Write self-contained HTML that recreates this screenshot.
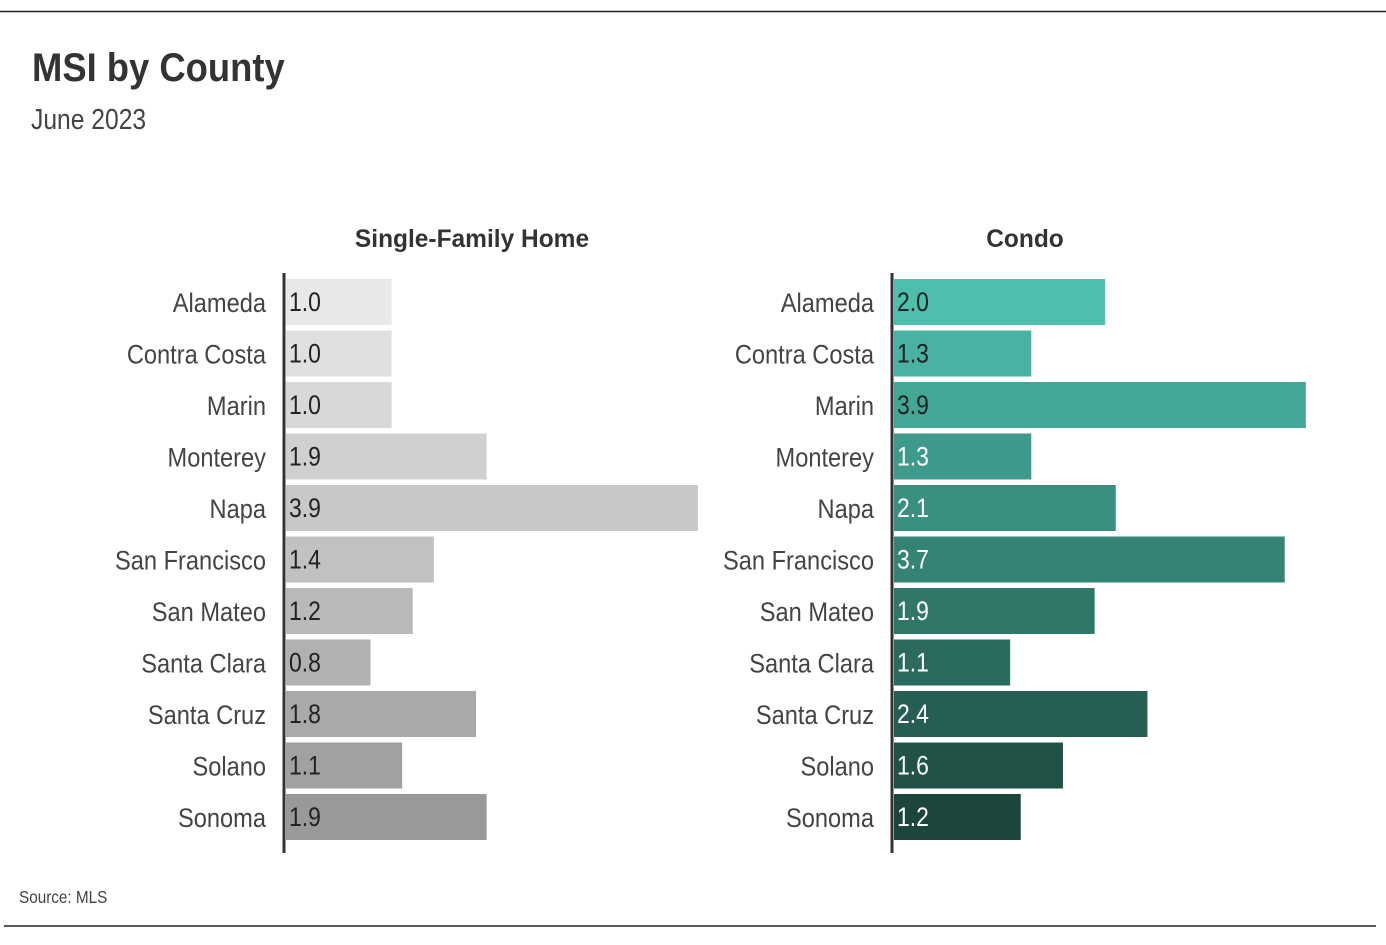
<!DOCTYPE html>
<html><head><meta charset="utf-8"><style>
body{margin:0;background:#fff;}
svg text{font-family:"Liberation Sans",sans-serif;}
</style></head><body>
<svg width="1386" height="940" viewBox="0 0 1386 940">
<line x1="0" y1="11.5" x2="1386" y2="11.5" stroke="#222" stroke-width="1.5"/>
<line x1="4" y1="926" x2="1376" y2="926" stroke="#222" stroke-width="1.5"/>
<text transform="translate(32,81) scale(0.91,1)" font-size="40" font-weight="bold" fill="#333">MSI by County</text>
<text transform="translate(31,129) scale(0.85,1)" font-size="29" fill="#444">June 2023</text>
<text transform="translate(472,247) scale(0.98,1)" font-size="25" font-weight="bold" fill="#333" text-anchor="middle">Single-Family Home</text>
<text transform="translate(1025,247) scale(0.98,1)" font-size="25" font-weight="bold" fill="#333" text-anchor="middle">Condo</text>
<text transform="translate(19,903) scale(0.85,1)" font-size="18" fill="#444">Source: MLS</text>
<g id="left"></g>
<g id="right"></g>
</svg>
<script>
const counties=["Alameda","Contra Costa","Marin","Monterey","Napa","San Francisco","San Mateo","Santa Clara","Santa Cruz","Solano","Sonoma"];
const sfhValues=[1.0,1.0,1.0,1.9,3.9,1.4,1.2,0.8,1.8,1.1,1.9];
const condoValues=[2.0,1.3,3.9,1.3,2.1,3.7,1.9,1.1,2.4,1.6,1.2];
const NS="http://www.w3.org/2000/svg";
const rowY=i=>279+i*51.5;
const barH=46;
const xLen=v=>v*105.6;
function lerp(a,b,t){return a.map((c,k)=>Math.round(c+(b[k]-c)*t));}
function panel(gid,axisX,vals,c0,c1,whiteFrom,prefix){
  const g=document.getElementById(gid);
  const ax=document.createElementNS(NS,"line");
  ax.setAttribute("x1",axisX);ax.setAttribute("x2",axisX);ax.setAttribute("y1",273);ax.setAttribute("y2",853);
  ax.setAttribute("stroke","#333");ax.setAttribute("stroke-width","3");
  
  
  g.appendChild(ax);
  vals.forEach((v,i)=>{
    const col=lerp(c0,c1,i/(vals.length-1));
    const r=document.createElementNS(NS,"rect");
    r.setAttribute("x",axisX+2);r.setAttribute("y",rowY(i));
    r.setAttribute("width",xLen(v));r.setAttribute("height",barH);
    r.setAttribute("fill",`rgb(${col})`);
    
    
    g.appendChild(r);
    const t=document.createElementNS(NS,"text");
    t.setAttribute("transform",`translate(${axisX+5},${rowY(i)+32}) scale(0.85,1)`);
    t.setAttribute("font-size","27");
    t.setAttribute("fill",i>=whiteFrom?"#fff":"#222");
    t.textContent=v.toFixed(1);
    
    
    g.appendChild(t);
    const l=document.createElementNS(NS,"text");
    l.setAttribute("transform",`translate(${axisX-18},${rowY(i)+33}) scale(0.875,1)`);
    l.setAttribute("font-size","27");l.setAttribute("text-anchor","end");l.setAttribute("fill","#444");
    l.textContent=counties[i];
    
    
    g.appendChild(l);
  });
}
panel("left",284,sfhValues,[232,232,232],[153,153,153],99,"sfh");
panel("right",892,condoValues,[77,191,173],[28,70,60],3,"condo");
</script>
</body></html>
